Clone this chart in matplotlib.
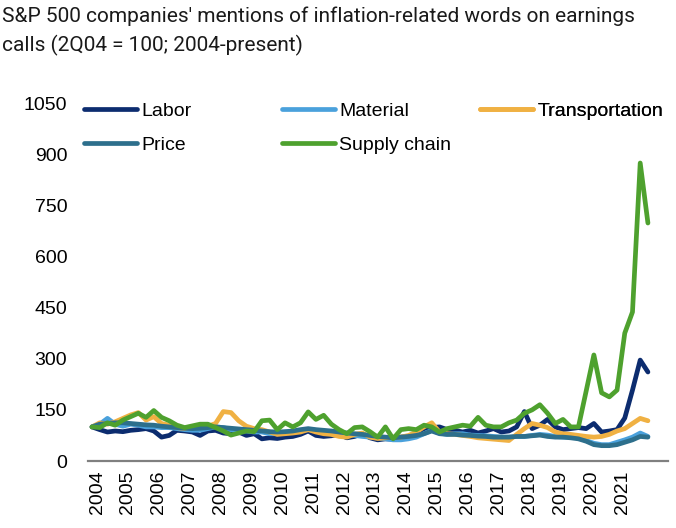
import numpy as np
import matplotlib.pyplot as plt

years = [str(y) for y in range(2004, 2022)]

# quarterly index values, 2Q04 = 100
labor = [100, 92, 85, 88, 86, 90, 92, 95, 88, 70, 75, 90, 88, 85, 75, 88,
         90, 82, 80, 85, 75, 80, 65, 68, 66, 70, 72, 78, 88, 75, 72, 74,
         78, 68, 72, 80, 68, 62, 65, 64, 70, 72, 80, 95, 98, 100, 92, 90,
         85, 90, 82, 88, 95, 85, 88, 100, 145, 95, 105, 122, 100, 92, 95, 98,
         95, 110, 85, 88, 92, 126, 208, 296, 261]
material = [100, 108, 125, 108, 102, 108, 105, 100, 100, 98, 98, 95, 92, 90, 90, 95,
            100, 98, 92, 88, 88, 85, 85, 80, 80, 85, 85, 88, 92, 90, 85, 82,
            80, 80, 75, 72, 70, 68, 65, 62, 62, 65, 70, 80, 90, 82, 78, 80,
            80, 76, 75, 74, 72, 70, 70, 72, 72, 75, 78, 76, 72, 70, 70, 68,
            60, 52, 48, 48, 55, 62, 70, 82, 72]
transportation = [100, 112, 108, 115, 125, 135, 142, 120, 130, 110, 105, 98, 95, 100, 98, 102,
                  110, 145, 142, 118, 102, 95, 92, 85, 78, 80, 82, 85, 92, 85, 80, 78,
                  72, 70, 78, 82, 70, 66, 68, 70, 70, 75, 85, 100, 112, 85, 80, 78,
                  75, 72, 68, 66, 64, 62, 60, 78, 95, 110, 105, 98, 85, 80, 78, 75,
                  72, 70, 72, 78, 88, 95, 110, 125, 118]
price = [100, 108, 110, 112, 112, 110, 108, 106, 105, 102, 100, 98, 96, 95, 96, 98,
         100, 98, 96, 94, 92, 90, 88, 86, 85, 86, 88, 92, 95, 92, 90, 88,
         85, 82, 80, 78, 75, 72, 70, 68, 70, 72, 75, 80, 88, 80, 78, 78,
         76, 75, 73, 72, 70, 70, 70, 72, 72, 74, 76, 72, 70, 70, 68, 65,
         58, 48, 45, 45, 48, 55, 62, 72, 70]
supply_chain = [100, 98, 112, 105, 120, 130, 140, 128, 148, 128, 118, 105, 98, 103, 108, 108,
                98, 88, 76, 82, 88, 86, 118, 120, 92, 112, 100, 112, 144, 122, 134, 108,
                92, 80, 98, 100, 86, 70, 100, 65, 92, 95, 92, 105, 100, 85, 95, 100,
                105, 102, 128, 105, 100, 100, 112, 120, 140, 150, 165, 140, 110, 122, 100, 100,
                205, 311, 200, 188, 208, 375, 437, 874, 698]

names = ["Labor", "Material", "Transportation", "Price", "Supply chain"]
colors = ["#0c2c6f", "#4aa1dc", "#f0b143", "#2d6f8c", "#4ea12e"]
series = [labor, material, transportation, price, supply_chain]

quarters = np.arange(len(labor))

plt.rcParams['font.family'] = ['Liberation Sans', 'DejaVu Sans']

fig = plt.figure(figsize=(6.76, 5.28), dpi=100)
ax = fig.add_axes([88 / 676, 67 / 528, 580 / 676, 358 / 528])

lines = {}
for name, vals, c in zip(names, series, colors):
    ln, = ax.plot(quarters, vals, color=c, lw=3.4, label=name,
                  solid_joinstyle='round', solid_capstyle='round')
    lines[name] = ln

ax.set_xlim(-0.52, 74.6)
ax.set_ylim(0, 1050)
ax.set_yticks(np.arange(0, 1051, 150))
ax.set_xticks(np.arange(len(years)) * 4 + 0.65)
ax.set_xticklabels(years, rotation=90)
ax.tick_params(axis='both', length=0, labelsize=14, colors='black')
ax.tick_params(axis='y', pad=15)
ax.tick_params(axis='x', pad=7)

for s in ['top', 'right', 'left']:
    ax.spines[s].set_visible(False)
ax.spines['bottom'].set_color('#808080')
ax.spines['bottom'].set_linewidth(1.6)

# legend: three columns laid out like the original
cols = [(["Labor", "Price"], 84, 128), (["Material", "Supply chain"], 282, 128),
        (["Transportation"], 480, 111)]
for labels, xpx, ypx in cols:
    leg = ax.legend([lines[l] for l in labels], labels, loc='center left',
                    bbox_to_anchor=(xpx / 676, 1 - ypx / 528),
                    bbox_transform=fig.transFigure, frameon=False,
                    fontsize=14, handlelength=2.75, handletextpad=0.2,
                    labelspacing=0.85, borderpad=0, borderaxespad=0)
    ax.add_artist(leg)

fig.text(2 / 676, 1 - 6 / 528,
         "S&P 500 companies' mentions of inflation-related words on earnings\ncalls (2Q04 = 100; 2004-present)",
         ha='left', va='top', fontsize=15, family='Roboto', color='#1a1a1a',
         linespacing=1.6)

fig.savefig("out.png", dpi=100)
